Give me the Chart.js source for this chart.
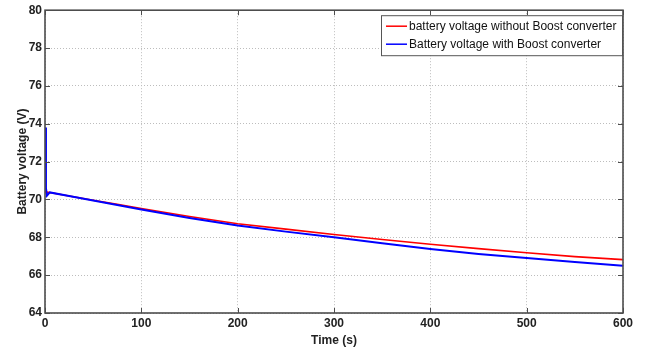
<!DOCTYPE html>
<html>
<head>
<meta charset="utf-8">
<script src="https://cdn.jsdelivr.net/npm/chart.js@4"></script>
<style>
  html, body { margin: 0; padding: 0; background: #fff; }
  #wrap { width: 647px; height: 348px; }
</style>
</head>
<body>
<div id="wrap"><canvas id="chart" width="647" height="348"></canvas></div>
<script>
const FONT = '"Liberation Sans Narrow", "Liberation Sans", Arial, sans-serif';

// time in seconds, voltages
const timeNoBoost = [0, 5, 25, 50, 75, 100, 150, 200, 250, 300, 350, 400, 450, 500, 550, 600];
const voltNoBoost = [70.4, 70.37, 70.18, 69.96, 69.74, 69.52, 69.1, 68.72, 68.43, 68.15, 67.88, 67.63, 67.4, 67.18, 66.98, 66.82];

const timeBoost = [0, 1, 2, 5, 25, 50, 75, 100, 150, 200, 250, 300, 350, 400, 450, 500, 550, 600];
const voltBoost = [73.8, 70.6, 70.2, 70.37, 70.18, 69.95, 69.71, 69.47, 69.02, 68.62, 68.3, 68.0, 67.68, 67.38, 67.12, 66.9, 66.7, 66.5];

const xTicks = [0, 100, 200, 300, 400, 500, 600];
const yTicks = [64, 66, 68, 70, 72, 74, 76, 78, 80];

function toPoints(xs, ys) {
  return xs.map((x, i) => ({ x: x, y: ys[i] }));
}

// box round the plot with inward ticks on all four sides
const framePlugin = {
  id: 'frame',
  afterDatasetsDraw(chart) {
    const { ctx, chartArea: a, scales } = chart;
    ctx.save();
    ctx.strokeStyle = '#4d4d4d';
    ctx.lineWidth = 1;
    ctx.beginPath();
    xTicks.forEach(v => {
      const px = Math.round(scales.x.getPixelForValue(v)) + 0.5;
      ctx.moveTo(px, a.bottom); ctx.lineTo(px, a.bottom - 5);
      ctx.moveTo(px, a.top); ctx.lineTo(px, a.top + 5);
    });
    yTicks.forEach(v => {
      const py = Math.round(scales.y.getPixelForValue(v)) + 0.5;
      ctx.moveTo(a.left, py); ctx.lineTo(a.left + 5, py);
      ctx.moveTo(a.right, py); ctx.lineTo(a.right - 5, py);
    });
    ctx.stroke();
    ctx.lineWidth = 1.6;
    ctx.strokeRect(a.left, a.top, a.right - a.left, a.bottom - a.top);
    ctx.restore();
  },
  afterDraw(chart) {
    // legend box, top right inside the plot
    const { ctx, chartArea: a } = chart;
    const sets = [chart.data.datasets[0], chart.data.datasets[1]];
    const w = 241, h = 40;
    const x0 = a.right - w - 1, y0 = a.top + 5;
    ctx.save();
    ctx.fillStyle = '#fff';
    ctx.fillRect(x0, y0, w, h);
    ctx.strokeStyle = '#555';
    ctx.lineWidth = 1;
    ctx.strokeRect(x0 + 0.5, y0 + 0.5, w, h);
    ctx.font = '12px ' + FONT;
    ctx.textBaseline = 'middle';
    sets.forEach((ds, i) => {
      const yy = y0 + 11 + i * 18;
      ctx.strokeStyle = ds.borderColor;
      ctx.lineWidth = 1.5;
      ctx.beginPath();
      ctx.moveTo(x0 + 5, yy); ctx.lineTo(x0 + 26, yy);
      ctx.stroke();
      ctx.fillStyle = '#111';
      ctx.fillText(ds.label, x0 + 28, yy);
    });
    ctx.restore();
  }
};

new Chart(document.getElementById('chart'), {
  type: 'line',
  data: {
    datasets: [{
      label: 'battery voltage without Boost converter',
      data: toPoints(timeNoBoost, voltNoBoost),
      borderColor: '#ff0000',
      borderWidth: 1.6,
      pointRadius: 0,
      tension: 0,
      order: 1,
    }, {
      label: 'Battery voltage with Boost converter',
      data: toPoints(timeBoost, voltBoost),
      borderColor: '#0000ff',
      borderWidth: 2,
      pointRadius: 0,
      tension: 0,
      order: 0,
    }]
  },
  options: {
    responsive: false,
    animation: false,
    layout: { padding: { top: 7, right: 24, left: 0, bottom: 0 } },
    plugins: { legend: { display: false }, tooltip: { enabled: false } },
    scales: {
      x: {
        type: 'linear',
        min: 0, max: 600,
        afterBuildTicks: s => { s.ticks = xTicks.map(v => ({ value: v })); },
        afterFit: s => { s.height = 35; },
        grid: { color: '#bdbdbd', drawTicks: false },
        border: { display: false, dash: [1, 2] },
        ticks: { color: '#222', padding: 3, font: { family: FONT, size: 12, weight: 'bold' } },
        title: { display: true, text: 'Time (s)', color: '#222', padding: 0,
                 font: { family: FONT, size: 12, weight: 'bold' } }
      },
      y: {
        min: 64, max: 80,
        afterBuildTicks: s => { s.ticks = yTicks.map(v => ({ value: v })); },
        afterFit: s => { s.width = 45; },
        grid: { color: '#bdbdbd', drawTicks: false },
        border: { display: false, dash: [1, 2] },
        ticks: { color: '#222', padding: 3, font: { family: FONT, size: 12, weight: 'bold' } },
        title: { display: true, text: 'Battery voltage (V)', color: '#222', padding: { top: 15, bottom: 0 },
                 font: { family: FONT, size: 12, weight: 'bold' } }
      }
    }
  },
  plugins: [framePlugin]
});
</script>
</body>
</html>
